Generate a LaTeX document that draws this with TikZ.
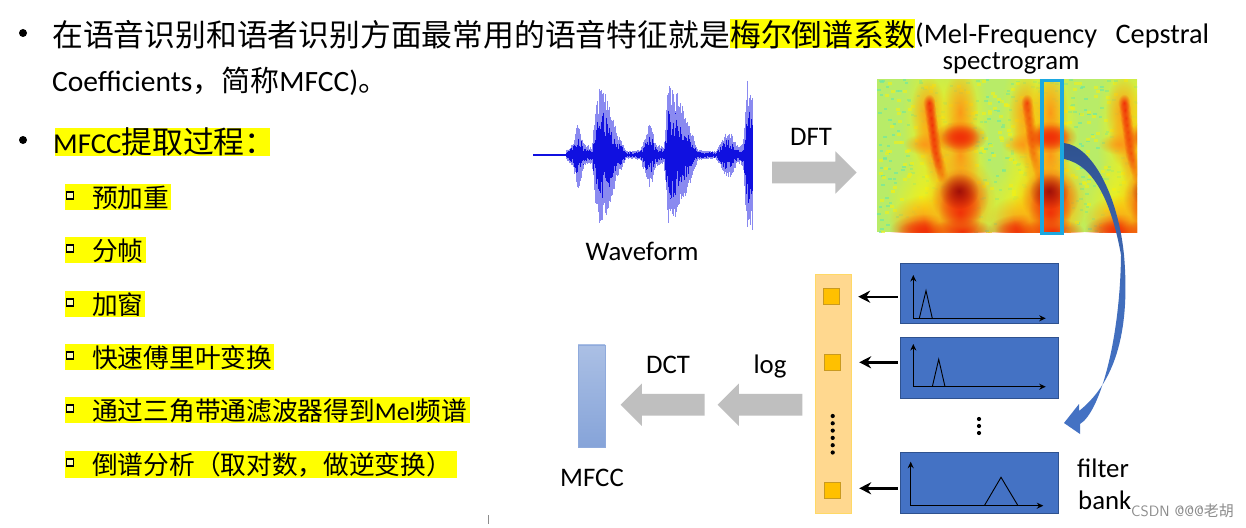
\documentclass[tikz,border=0pt]{standalone}
\usepackage{fontspec}
\setmainfont{Carlito}
\newfontfamily\cjk{Noto Sans CJK SC}
\usetikzlibrary{shapes.arrows,arrows.meta,fadings}
\definecolor{hilite}{HTML}{FFFF00}
\definecolor{bankblue}{HTML}{4472C4}
\definecolor{bankline}{HTML}{2F528F}
\definecolor{arrowgray}{HTML}{BFBFBF}
\definecolor{barfill}{HTML}{FFD88F}
\definecolor{barline}{HTML}{FFD966}
\definecolor{cellfill}{HTML}{FFC000}
\definecolor{cellline}{HTML}{C99A20}
\definecolor{wavelight}{HTML}{8A8AF0}
\definecolor{wavedark}{HTML}{1010E0}
\definecolor{specbase}{HTML}{B8EC68}
\definecolor{specspot}{HTML}{70E8A0}
\definecolor{specyellow}{HTML}{F8F010}
\definecolor{specorange}{HTML}{FB9A18}
\definecolor{specred}{HTML}{F03208}
\definecolor{specdark}{HTML}{A01008}
\definecolor{frameblue}{HTML}{1CA8E0}
\tikzfading[name=softblob,inner color=transparent!0,outer color=transparent!100]
\newcommand{\zh}[1]{{\cjk #1}}
\newcommand{\blob}[5]{\fill[#1,path fading=softblob] (#2,#3) ellipse [x radius={1.8*#4pt},y radius={1.8*#5pt}];}
\newcommand{\syllable}[2]{%
  \begin{scope}[shift={(#1,0)}]
    \blob{specyellow}{930}{130}{16}{46}
    \blob{specyellow}{925}{208}{22}{28}
    \blob{specorange}{928}{112}{10}{20}
    \blob{specorange}{933}{142}{11}{15}
    \blob{specorange}{925}{144}{12}{6}
    \blob{specorange}{939}{165}{8}{12}
    \foreach \ax/\ay in {929/103,930/110,931/118,932/125,933/132,934/139,935/146,936/153,938/160,940/167,942/174}{
      \blob{specred}{\ax}{\ay}{3.5}{5}
    }
    \blob{specorange}{925}{220}{20}{14}
    \blob{specred}{925}{230}{20}{9}
    \blob{specred}{926}{230}{16}{6}
  \end{scope}
  \begin{scope}[shift={(#2,0)}]
    \blob{specyellow}{961}{130}{16}{46}
    \blob{specyellow}{962}{205}{22}{32}
    \blob{specorange}{960}{112}{10}{24}
    \blob{specorange}{960}{155}{11}{24}
    \blob{specred}{960}{137}{15}{9}
    \blob{specred}{960}{137}{11}{7}
    \blob{specorange}{960}{202}{20}{26}
    \blob{specred}{960}{197}{16}{16}
    \blob{specred}{960}{212}{12}{15}
    \blob{specdark}{959}{191}{11}{10}
    \blob{specred}{962}{231}{18}{7}
  \end{scope}
}
\tikzset{
  plain/.style={inner sep=0pt,anchor=base west,font=\fontsize{28.3}{29}\selectfont},
  headtext/.style={plain,font=\fontsize{30.8}{31}\selectfont},
  itemtext/.style={plain,font=\fontsize{25.7}{26}\selectfont},
  caption/.style={inner sep=0pt,anchor=base,font=\fontsize{26.8}{27}\selectfont},
  bigdot/.style={circle,fill=black,inner sep=0pt,minimum size=8pt},
  tickbox/.style={draw=black,line width=1.8pt,fill=white!70!hilite,inner sep=0pt,minimum size=7pt},
  flow/.style={single arrow,fill=arrowgray,inner xsep=0pt,inner ysep=10.6pt,single arrow head extend=10.4pt,single arrow tip angle=90},
  bank/.style={draw=bankline,fill=bankblue,line width=.8pt,inner sep=0pt,minimum width=158pt,minimum height=60.5pt},
  cellbox/.style={draw=cellline,fill=cellfill,line width=.9pt,inner sep=0pt,minimum size=16pt},
  pull/.style={-{Stealth[length=12pt,width=12pt]},line width=2.4pt,shorten <=2.5pt,shorten >=18pt},
  axis/.style={-{Stealth[length=6.5pt,width=6pt]},line width=1.2pt},
  dotty/.style={circle,fill=black,inner sep=0pt,minimum size=4.2pt},
}
\begin{document}
\begin{tikzpicture}[x=1pt,y=-1pt]
  \useasboundingbox (0,0) rectangle (1246,527);
  \fill[white] (0,0) rectangle (1246,527);
  % left text
  \node[bigdot] (b1) at (23,33) {};
  \fill[hilite] (730,19) rectangle (915,48);
  \node[headtext] (t1) at (52,46) {\zh{在语音识别和语者识别方面最常用的语音特征就是}};
  \node[headtext] (t2) at (730,46) {\zh{梅尔倒谱系数}};
  \node[plain] (t3) at (915,44) {(Mel-Frequency\hspace{12pt} Cepstral};
  \node[plain,font=\fontsize{29.5}{30}\selectfont] (t4) at (52,91) {Coefficients{\fontsize{29}{30}\selectfont\zh{，简称}}MFCC)\zh{。}};
  \node[bigdot] (b2) at (23,140) {};
  \fill[hilite] (55,128) rectangle (270,156);
  \node[plain,font=\fontsize{28.8}{30}\selectfont] (t5) at (53,153) {MFCC{\fontsize{30.8}{31}\selectfont\zh{提取过程：}}};
  \foreach \nm/\ya/\yb/\xb/\txt in {a/184/210/171/预加重, b/237/263/146/分帧, c/291/317/145/加窗, d/344/370/274/快速傅里叶变换, f/451/478/457/倒谱分析（取对数，做逆变换）}{
    \fill[hilite] (65,\ya) rectangle (\xb,\yb);
    \node[tickbox] (tick\nm) at (70,\ya+11.5) {};
    \node[itemtext] (item\nm) at (92,\ya+23) {\zh{\txt}};
  }
  \fill[hilite] (65,397) rectangle (470,423);
  \node[tickbox] (ticke) at (70,408.5) {};
  \node[itemtext] (iteme) at (92,420) {\zh{通过三角带通滤波器得到}Mel\zh{频谱}};
  % waveform
  \pgfmathsetseed{7}
  \draw[wavedark,line width=1.4pt] (533,155) -- (566,155);
  \foreach \xa/\ha/\xb/\hb in {566/5/573/12, 573/12/578/37, 578/37/584/12, 584/12/592/8, 592/8/596/55, 596/55/600/72, 600/72/606/62, 606/62/616/28, 616/28/626/4, 626/4/640/5, 640/5/650/34, 650/34/656/12, 656/12/664/8, 664/8/668/70, 668/70/676/66, 676/66/688/34, 688/34/698/5, 698/5/716/4, 716/4/728/27, 728/27/738/8, 738/8/743/12, 743/12/747/76, 747/76/752/76}{
    \pgfmathtruncatemacro{\n}{(\xb-\xa)*2}
    \foreach \k in {1,...,\n}{
      \pgfmathsetmacro{\xx}{\xa+(\xb-\xa)*\k/\n}
      \pgfmathsetmacro{\hh}{\ha+(\hb-\ha)*\k/\n}
      \pgfmathsetmacro{\up}{\hh*(0.6+0.4*rnd)}
      \pgfmathsetmacro{\dn}{\hh*(0.6+0.4*rnd)}
      \pgfmathsetmacro{\upb}{\hh*(0.25+0.4*rnd)}
      \pgfmathsetmacro{\dnb}{\hh*(0.25+0.4*rnd)}
      \draw[wavelight,line width=.5pt] (\xx,155-\up) -- (\xx,155+\dn);
      \draw[wavedark,line width=.5pt] (\xx,155-\upb) -- (\xx,155+\dnb);
    }
  }
  \node[caption] (wave) at (642,260) {Waveform};
  % DFT and spectrogram
  \node[caption] (dft) at (811,145) {DFT};
  \node[flow,minimum height=84.4pt] (dftarrow) at (809,172.5) {};
  \node[caption] (spec) at (1011,70) {spectrogram};
  \begin{scope}
    \clip (877,79) rectangle (1137,232);
    \fill[specbase] (877,79) rectangle (1137,232);
    \pgfmathsetseed{11}
    \foreach \i in {1,...,420}{
      \pgfmathsetmacro{\sx}{877+260*rnd}
      \pgfmathsetmacro{\sy}{79+153*rnd}
      \fill[specspot,opacity=.7] (\sx,\sy) rectangle (\sx+3.5,\sy+2);
    }
    \foreach \i in {1,...,260}{
      \pgfmathsetmacro{\sx}{877+260*rnd}
      \pgfmathsetmacro{\sy}{79+153*rnd}
      \fill[specyellow!80!specbase,opacity=.7] (\sx,\sy) rectangle (\sx+4,\sy+3);
    }
    \syllable{0}{0}
    \syllable{98}{90}
    \syllable{195}{192}
  \end{scope}
  \node[draw=frameblue,line width=3.2pt,inner sep=0pt,minimum width=20pt,minimum height=153pt] (frame) at (1052,157) {};
  % filter bank
  \node[bank] (bank1) at (979.7,293.5) {};
  \node[bank] (bank2) at (979.7,367.8) {};
  \node[bank] (bank3) at (979.7,482.8) {};
  \foreach \ox/\oy/\top/\tx/\ty/\ta/\tb/\xe in {913.3/318.3/275/926/290.7/919.3/932.3/1045.7, 913.3/386.7/344/938.7/359.3/932.3/945/1045.7, 910.7/505.7/461.7/1001/477.3/984.3/1018/1043.3}{
    \draw[axis] (\ox,\oy) -- (\ox,\top);
    \draw[axis] (\ox,\oy) -- (\xe,\oy);
    \draw[line width=.9pt] (\ta,\oy) -- (\tx,\ty) -- (\tb,\oy);
  }
  \node[dotty] (bd1) at (979,419) {};
  \node[dotty] (bd2) at (979,426) {};
  \node[dotty] (bd3) at (979,433) {};
  \node[caption,anchor=base west] (filter) at (1077,477) {filter};
  \node[caption,anchor=base west] (fbank) at (1078,509) {bank};
  % energy bar
  \node[draw=barline,fill=barfill,line width=.8pt,inner sep=0pt,minimum width=36pt,minimum height=239pt] (bar) at (833,393.7) {};
  \node[cellbox] (cell1) at (831.7,296.7) {};
  \node[cellbox] (cell2) at (832.7,362.3) {};
  \node[cellbox] (cell3) at (832.7,490.7) {};
  \foreach \k in {0,...,5}{
    \node[dotty] (dd\k) at (832.7,416+7.3*\k) {};
  }
  \draw[pull] (bank1.west |- cell1) -- (cell1.east);
  \draw[pull] (bank2.west |- cell2) -- (cell2.east);
  \draw[pull] ([yshift=2.4pt]bank3.west |- cell3) -- ([yshift=2.4pt]cell3.east);
  % blue curved arrow
  \path[top color=bankline,bottom color=bankblue,middle color=bankblue!85!bankline]
    (1064,143) .. controls (1092,146) and (1118,195) .. (1124,255)
    .. controls (1130,325) and (1118,380) .. (1079,411)
    -- (1079,404) -- (1064,423) -- (1080,434) -- (1080,424)
    .. controls (1100,412) and (1120,340) .. (1121,255)
    .. controls (1112,205) and (1095,165) .. (1064,159) -- cycle;
  % mfcc side
  \node[caption] (log) at (770,373) {log};
  \node[flow,minimum height=84.7pt,shape border rotate=180] (logarrow) at (765.3,404.7) {};
  \node[caption] (dct) at (668,373) {DCT};
  \node[flow,minimum height=84pt,shape border rotate=180] (dctarrow) at (668,404.7) {};
  \node[top color=bankblue!45!white,bottom color=bankblue!65!white,draw=bankblue!60!white,line width=.5pt,inner sep=0pt,minimum width=27pt,minimum height=102.7pt] (mfcc) at (591.5,396.3) {};
  \node[caption] (mfcctext) at (592,486) {MFCC};
  % watermark and corner mark
  \node[inner sep=0pt,anchor=base west,text=black!45,font=\fontsize{15}{15}\sffamily] (csdn) at (1131,516) {CSDN @@@\zh{老胡}};
  \fill[black!45] (488,515) rectangle (489.2,524);
\end{tikzpicture}
\end{document}
